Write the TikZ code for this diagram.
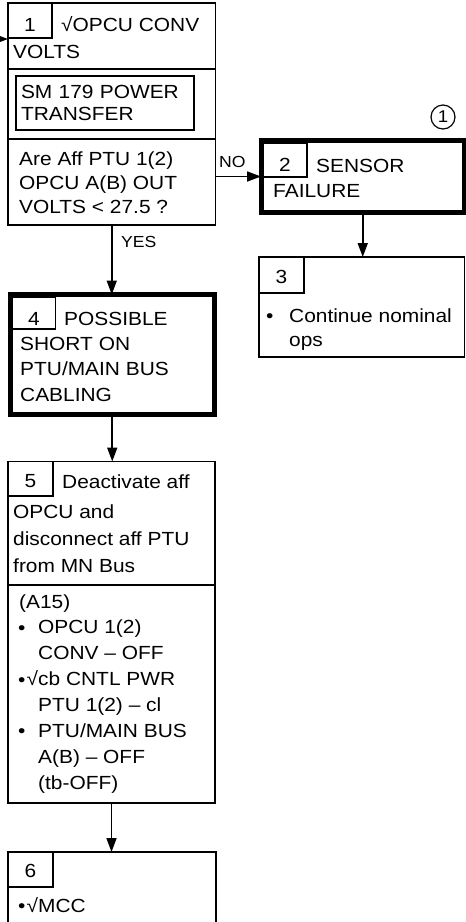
\documentclass[tikz,border=0pt]{standalone}
\usepackage{fontspec}
\setmainfont{Liberation Sans}[FakeStretch=1.1]
\usetikzlibrary{positioning,arrows.meta}

\begin{document}
\begin{tikzpicture}[x=1pt,y=-1pt,
    >={Triangle[length=14pt,width=10pt]},
    box/.style={draw,line width=1.8pt,anchor=north west,inner sep=0pt,outer sep=0pt},
    heavy/.style={draw,line width=5pt,anchor=north west,inner sep=0pt,outer sep=0pt},
    num/.style={draw,line width=1.2pt,anchor=north west,inner sep=0pt,outer sep=0pt,
      text height=20pt,text depth=0pt,font=\fontsize{19}{24}\selectfont},
    txt/.style={anchor=base west,inner sep=0pt,align=left,font=\fontsize{19}{26}\selectfont},
    lbl/.style={anchor=base west,inner sep=0pt,font=\fontsize{16}{18}\selectfont},
    link/.style={->,line width=1.7pt}]

\clip (0,0) rectangle (466,922);

% step 1
\node[box,minimum width=207.5pt,minimum height=66pt] (b1a) at (8,3) {};
\node[box,minimum width=207.5pt,minimum height=70pt] (b1b) at (b1a.south west) {};
\node[box,minimum width=207.5pt,minimum height=86pt] (b1c) at (b1b.south west) {};
\node[num,minimum width=44pt,minimum height=35pt,text height=21pt] (n1) at (b1a.north west) {1};
\node[txt] (t1) at (61,31) {√OPCU CONV};
\node[txt] (t1b) at (13,58) {VOLTS};
\node[draw,line width=1.5pt,minimum height=54pt,inner xsep=5pt,text width=168pt,align=left,
      font=\fontsize{19}{22}\selectfont] (sm) at (105,103) {SM 179 POWER\\TRANSFER};
% base of a multi-line node = its last line
\node[txt,font=\fontsize{19}{24}\selectfont] (t1c) at (19,213) {Are Aff PTU 1(2)\\OPCU A(B) OUT\\VOLTS < 27.5 ?};

% step 2
\node[heavy,minimum width=203.5pt,minimum height=72pt] (b2) at (261,140.5) {};
\node[num,minimum width=44pt,minimum height=34pt,text height=23pt] (n2) at (263,143) {2};
\node[txt] (t2) at (316,172) {SENSOR};
\node[txt] (t2b) at (273,197) {FAILURE};
\node[circle,draw,line width=1.2pt,minimum size=24pt,inner sep=0pt,font=\fontsize{17}{17}\selectfont] (c1) at (443,117) {1};

% step 3
\node[box,minimum width=205.5pt,minimum height=100pt] (b3) at (259,257) {};
\node[num,minimum width=45pt,minimum height=36pt,text height=16pt] (n3) at (b3.north west) {3};
\node[txt] (t3a) at (266,322) {•};
\node[txt,font=\fontsize{19}{24}\selectfont] (t3) at (289,346) {Continue nominal\\ops};

% step 4
\node[heavy,minimum width=204.5pt,minimum height=120pt] (b4) at (10,294.5) {};
\node[num,minimum width=43pt,minimum height=32pt,text height=24pt] (n4) at (12.5,297) {4};
\node[txt] (t4) at (64,325) {POSSIBLE};
\node[txt,font=\fontsize{19}{25.5}\selectfont] (t4b) at (20,401) {SHORT ON\\PTU/MAIN BUS\\CABLING};

% step 5
\node[box,minimum width=207pt,minimum height=123.5pt] (b5a) at (8,461.5) {};
\node[box,minimum width=207pt,minimum height=218pt] (b5b) at (b5a.south west) {};
\node[num,minimum width=45pt,minimum height=34.5pt,text height=18pt] (n5) at (b5a.north west) {5};
\node[txt] (t5) at (62,488) {Deactivate aff};
\node[txt,font=\fontsize{19}{27}\selectfont] (t5b) at (13,572) {OPCU and\\disconnect aff PTU\\from MN Bus};
\node[txt] (t5c) at (19,608) {(A15)};
\node[txt] (t5d) at (18,634) {•};
\node[txt] (t5e) at (18,686) {•};
\node[txt] (t5f) at (18,737) {•};
\node[txt,font=\fontsize{19}{25.9}\selectfont] (t5g) at (38,789)
  {OPCU 1(2)\\CONV – OFF\\\llap{√}cb CNTL PWR\\PTU 1(2) – cl\\PTU/MAIN BUS\\A(B) – OFF\\(tb-OFF)};

% step 6
\node[box,minimum width=208pt,minimum height=90pt] (b6) at (8,852) {};
\node[num,minimum width=45pt,minimum height=35pt,text height=16pt] (n6) at (b6.north west) {6};
\node[txt] (t6a) at (18,912) {•};
\node[txt] (t6) at (38,912) {\llap{√}MCC};

% flow
\coordinate (entry) at (0,39);
\draw[link] (entry) -- (entry -| b1a.west);
\draw[link] (b1c.east |- b2.west) -- (b2.west);
\node[lbl] (no) at (219,167) {NO};
\draw[link] (b1c.south) -- (b1c.south |- b4.north);
\node[lbl] (yes) at (121,247) {YES};
\draw[link] (b2.south) -- (b2.south |- b3.north);
\draw[link] (b4.south) -- (b4.south |- b5a.north);
\draw[link] (b5b.south) -- (b5b.south |- b6.north);

\end{tikzpicture}
\end{document}
